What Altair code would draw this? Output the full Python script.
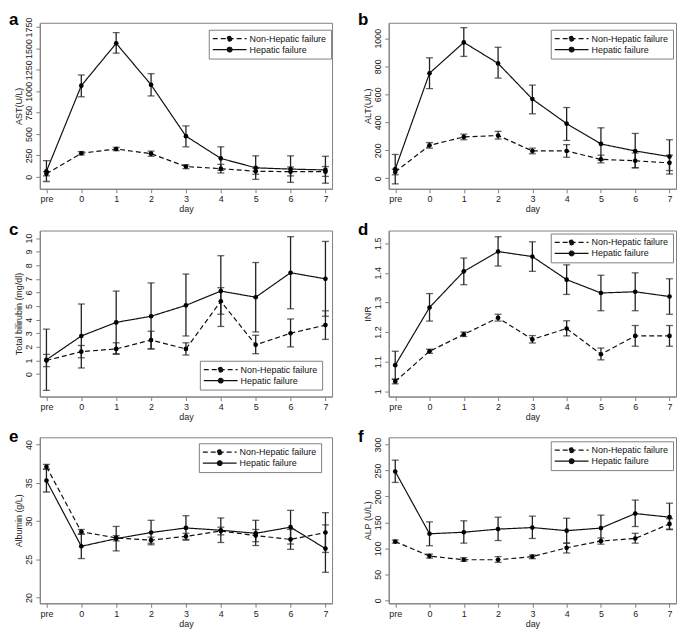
import altair as alt
import pandas as pd

day_labels = ["pre", "0", "1", "2", "3", "4", "5", "6", "7"]
group_names = ["Non-Hepatic failure", "Hepatic failure"]

# a: AST
ast_non = [35, 275, 325, 270, 120, 95, 65, 60, 60]
ast_non_lo = [10, 255, 305, 240, 95, 45, 30, 10, 5]
ast_non_hi = [60, 295, 345, 300, 140, 145, 100, 115, 120]
ast_hep = [65, 1065, 1560, 1075, 475, 215, 105, 90, 80]
ast_hep_lo = [-55, 935, 1445, 945, 350, 75, -30, -65, -75]
ast_hep_hi = [190, 1190, 1685, 1205, 595, 350, 245, 245, 240]

# b: ALT
alt_non = [45, 235, 295, 305, 195, 195, 135, 125, 110]
alt_non_lo = [25, 215, 275, 280, 175, 150, 110, 75, 55]
alt_non_hi = [65, 255, 315, 335, 215, 240, 165, 180, 165]
alt_hep = [65, 750, 970, 820, 565, 390, 245, 195, 155]
alt_hep_lo = [-40, 640, 870, 715, 460, 270, 130, 75, 30]
alt_hep_hi = [170, 860, 1075, 935, 665, 505, 360, 320, 275]

# c: Total bilirubin
bil_non = [1.0, 1.65, 1.85, 2.5, 1.85, 5.35, 2.15, 3.0, 3.6]
bil_non_lo = [0.55, 1.2, 1.45, 1.85, 1.4, 4.4, 1.5, 2.0, 2.55]
bil_non_hi = [1.45, 2.1, 2.3, 3.15, 2.3, 6.35, 2.85, 4.05, 4.65]
bil_hep = [1.05, 2.8, 3.8, 4.25, 5.05, 6.1, 5.65, 7.45, 7.0]
bil_hep_lo = [-1.2, 0.45, 1.5, 1.85, 2.8, 3.5, 3.1, 4.8, 4.25]
bil_hep_hi = [3.3, 5.15, 6.1, 6.7, 7.35, 8.7, 8.2, 10.1, 9.75]

# d: INR
inr_non = [1.033, 1.135, 1.192, 1.248, 1.175, 1.212, 1.125, 1.187, 1.187]
inr_non_lo = [1.025, 1.128, 1.185, 1.237, 1.163, 1.187, 1.106, 1.152, 1.152]
inr_non_hi = [1.041, 1.142, 1.2, 1.26, 1.188, 1.238, 1.146, 1.222, 1.222]
inr_hep = [1.088, 1.283, 1.405, 1.472, 1.455, 1.377, 1.332, 1.336, 1.320]
inr_hep_lo = [1.04, 1.237, 1.36, 1.423, 1.405, 1.327, 1.272, 1.272, 1.260]
inr_hep_hi = [1.135, 1.33, 1.45, 1.522, 1.505, 1.427, 1.392, 1.400, 1.380]

# e: Albumin
alb_non = [37.1, 28.6, 27.8, 27.5, 28.0, 28.7, 28.1, 27.6, 28.5]
alb_non_lo = [36.8, 28.3, 27.4, 27.1, 27.6, 28.2, 27.3, 26.3, 25.9]
alb_non_hi = [37.4, 28.9, 28.1, 27.9, 28.4, 29.2, 28.9, 28.9, 31.1]
alb_hep = [35.3, 26.7, 27.7, 28.5, 29.1, 28.8, 28.4, 29.2, 26.4]
alb_hep_lo = [33.8, 25.1, 26.1, 26.9, 27.5, 27.2, 26.8, 27.0, 23.3]
alb_hep_hi = [36.8, 28.3, 29.3, 30.1, 30.7, 30.4, 30.1, 31.4, 29.5]

# f: ALP
alp_non = [113, 85, 78, 78, 84, 101, 114, 119, 147]
alp_non_lo = [110, 81, 75, 73, 80, 91, 108, 110, 137]
alp_non_hi = [116, 89, 82, 84, 87, 110, 120, 129, 157]
alp_hep = [248, 128, 131, 137, 140, 134, 139, 167, 160]
alp_hep_lo = [227, 105, 110, 115, 119, 110, 114, 142, 136]
alp_hep_hi = [270, 151, 153, 160, 162, 158, 164, 193, 187]

FONT = "Liberation Sans"
GRAY = "#808080"
LEG_PATH = "M-4.25,0L4.25,0M-0.6,0A0.6,0.6,0,1,1,0.6,0A0.6,0.6,0,1,1,-0.6,0Z"
PANEL_H = 167


def make_df(non, non_lo, non_hi, hep, hep_lo, hep_hi):
    rows = []
    for g, m, lo, hi in [(group_names[0], non, non_lo, non_hi),
                         (group_names[1], hep, hep_lo, hep_hi)]:
        for i in range(len(day_labels)):
            rows.append({"group": g, "xi": i, "mean": m[i], "lo": lo[i], "hi": hi[i]})
    return pd.DataFrame(rows)


def panel(letter, ytitle, df, ydomain, yticks, yfmt, legx, legy, width, letter_y):
    xscale = alt.Scale(domain=[-0.19, 8.19], nice=False, zero=False)
    xaxis = alt.Axis(values=list(range(9)), title="day",
                     labelExpr="datum.value == 0 ? 'pre' : '' + (datum.value - 1)")
    yscale = alt.Scale(domain=ydomain, nice=False, zero=False)
    yaxis = alt.Axis(values=yticks, format=yfmt, title=ytitle, labelAngle=270,
                     labelAlign="center", labelBaseline="bottom")

    def X():
        return alt.X("xi:Q", scale=xscale, axis=xaxis)

    def Y(f):
        return alt.Y(f + ":Q", scale=yscale, axis=yaxis)

    base = alt.Chart(df)
    rule = base.mark_rule(color="#222", strokeWidth=1.3).encode(
        x=X(), y=Y("lo"), y2="hi:Q")
    cap_lo = base.mark_tick(orient="horizontal", size=7, thickness=1.3, color="#222").encode(
        x=X(), y=Y("lo"))
    cap_hi = base.mark_tick(orient="horizontal", size=7, thickness=1.3, color="#222").encode(
        x=X(), y=Y("hi"))
    line = base.mark_line(color="#111", strokeWidth=1.2).encode(
        x=X(), y=Y("mean"),
        strokeDash=alt.StrokeDash(
            "group:N",
            scale=alt.Scale(domain=group_names, range=[[5, 3], [1, 0]]),
            legend=alt.Legend(
                title=None, orient="none", legendX=legx, legendY=legy,
                direction="vertical", symbolType=LEG_PATH, symbolSize=64,
                symbolStrokeWidth=1.2, symbolStrokeColor="#111",
                symbolFillColor="#111", symbolOffset=12, labelOffset=15,
                labelFont=FONT, labelFontSize=9, labelColor="#111",
                strokeColor=GRAY, fillColor="white", padding=4, rowPadding=1,
                labelLimit=300)))
    pts = base.mark_point(filled=True, size=22, color="#000", opacity=1).encode(
        x=X(), y=Y("mean"))
    tag = alt.Chart(pd.DataFrame({"label": [letter]})).mark_text(
        font=FONT, fontSize=17, fontWeight="bold", color="black",
        align="left", baseline="alphabetic").encode(
        text="label:N", x=alt.value(-31), y=alt.value(letter_y))
    return alt.layer(rule, cap_lo, cap_hi, line, pts, tag).properties(
        width=width, height=PANEL_H)


pa = panel("a", "AST(U/L)", make_df(ast_non, ast_non_lo, ast_non_hi, ast_hep, ast_hep_lo, ast_hep_hi),
           [-140, 1800], list(range(0, 1751, 250)), "d", 170, 7, 294, 2)
pb = panel("b", "ALT(U/L)", make_df(alt_non, alt_non_lo, alt_non_hi, alt_hep, alt_hep_lo, alt_hep_hi),
           [-75, 1110], list(range(0, 1001, 200)), "d", 163, 7, 289, 2)
pc = panel("c", "Total bilirubin (mg/dl)", make_df(bil_non, bil_non_lo, bil_non_hi, bil_hep, bil_hep_lo, bil_hep_hi),
           [-1.65, 10.55], list(range(0, 11)), "d", 161, 131, 294, 4)
pd_ = panel("d", "INR", make_df(inr_non, inr_non_lo, inr_non_hi, inr_hep, inr_hep_lo, inr_hep_hi),
            [0.982, 1.543], [1.0, 1.1, 1.2, 1.3, 1.4, 1.5], ".1~f", 163, 3, 289, 4)
pe = panel("e", "Albumin (g/L)", make_df(alb_non, alb_non_lo, alb_non_hi, alb_hep, alb_hep_lo, alb_hep_hi),
           [19.25, 40.95], list(range(20, 41, 5)), "d", 160, 6, 294, 5)
pf = panel("f", "ALP (U/L)", make_df(alp_non, alp_non_lo, alp_non_hi, alp_hep, alp_hep_lo, alp_hep_hi),
           [-6, 314], list(range(0, 301, 50)), "d", 163, 4, 289, 5)


def row(l, r):
    return alt.hconcat(l, r, spacing=24).resolve_scale(strokeDash="independent").resolve_legend(
        strokeDash="independent")


chart = alt.vconcat(row(pa, pb), row(pc, pd_), row(pe, pf), spacing=5).resolve_scale(
    strokeDash="independent").resolve_legend(strokeDash="independent").properties(
    padding={"left": 0, "top": 0, "right": 0, "bottom": 0}
).configure_view(stroke=GRAY, strokeWidth=1).configure_axis(
    domainColor=GRAY, tickColor=GRAY, tickSize=4, labelFont=FONT, labelFontSize=9,
    labelColor="#222", titleFont=FONT, titleFontSize=9, titleFontWeight="normal",
    titleColor="#222", grid=False, labelPadding=2, titlePadding=1
)

chart.save("out.html", embed_options={"renderer": "svg", "actions": False})
